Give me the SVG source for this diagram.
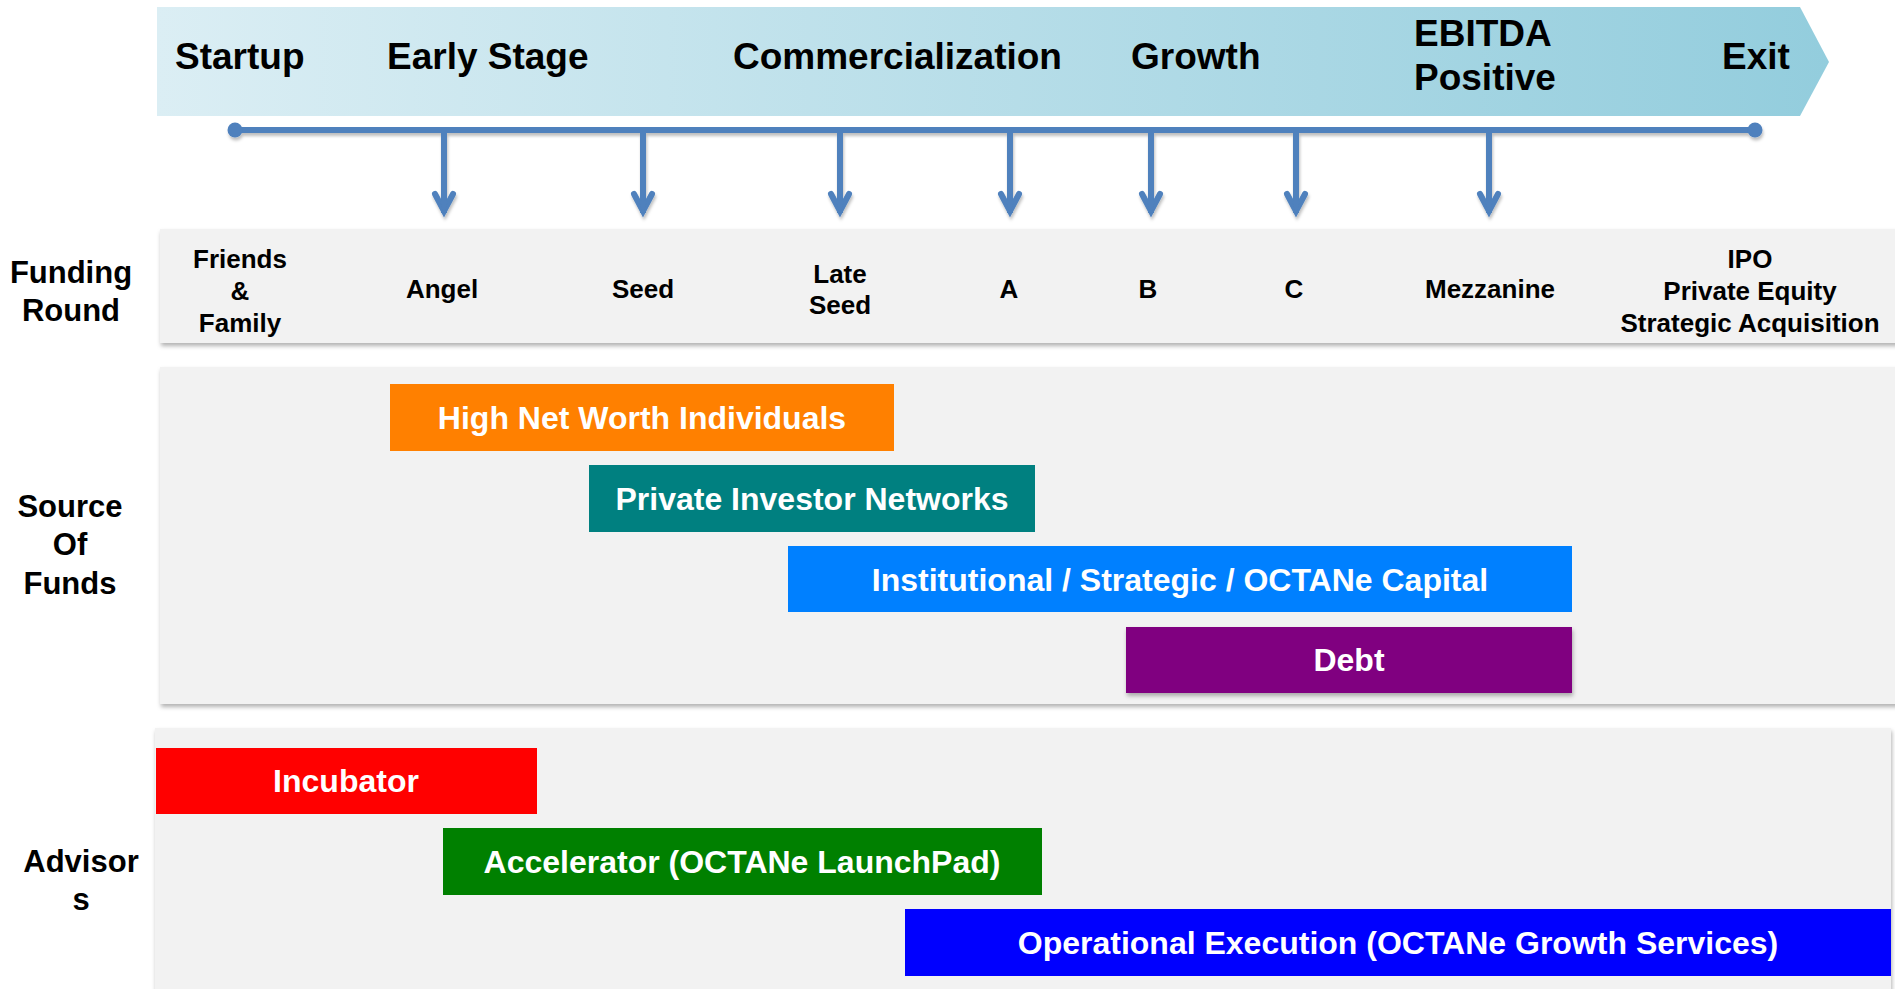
<svg xmlns="http://www.w3.org/2000/svg" width="1895" height="989" viewBox="0 0 1895 989">
<defs>
<linearGradient id="bannerGrad" x1="0" y1="0" x2="1" y2="0">
<stop offset="0" stop-color="#dbeef4"/>
<stop offset="1" stop-color="#93cddd"/>
</linearGradient>
<filter id="shadow" x="-5%" y="-10%" width="110%" height="130%">
<feDropShadow dx="1" dy="3" stdDeviation="2" flood-color="#000" flood-opacity="0.3"/>
</filter>
<filter id="lineShadow" x="-5%" y="-20%" width="110%" height="160%">
<feDropShadow dx="1" dy="3" stdDeviation="1.5" flood-color="#000" flood-opacity="0.25"/>
</filter>
<marker id="arrowhead" markerUnits="userSpaceOnUse" markerWidth="30" markerHeight="30" refX="0" refY="0" orient="auto" overflow="visible">
<path d="M-19,-9 L-2,0 L-19,9" fill="none" stroke="#4f81bd" stroke-width="6" stroke-linejoin="miter" stroke-linecap="round"/>
<path d="M-12,-4 L1,0 L-12,4 Z" fill="#4f81bd"/>
</marker>
</defs>
<style>
text { font-family: "Liberation Sans", Arial, Helvetica, sans-serif; font-weight: bold; }
.stage { font-size: 37px; fill: #000; }
.lbl { font-size: 31px; fill: #000; text-anchor: middle; }
.rnd { font-size: 26px; fill: #000; text-anchor: middle; }
.bartext { font-size: 32px; fill: #fff; text-anchor: middle; }
.panel { fill: #f2f2f2; }
.conn { stroke: #4f81bd; stroke-width: 6; fill: none; }
.drop { stroke: #4f81bd; stroke-width: 6; fill: none; marker-end: url(#arrowhead); }
.dot { fill: #4f81bd; }
</style>
<rect x="0" y="0" width="1895" height="989" fill="#ffffff"/>

<g id="banner">
<polygon points="157,7 1800,7 1829,62 1800,116 157,116" fill="url(#bannerGrad)"/>
<text class="stage" x="175" y="69">Startup</text>
<text class="stage" x="387" y="69">Early Stage</text>
<text class="stage" x="733" y="69">Commercialization</text>
<text class="stage" x="1131" y="69">Growth</text>
<text class="stage" x="1414" y="46">EBITDA</text>
<text class="stage" x="1414" y="90">Positive</text>
<text class="stage" x="1722" y="69">Exit</text>
</g>

<g id="connectors" filter="url(#lineShadow)">
<line class="conn" x1="235" y1="130" x2="1755" y2="130"/>
<circle class="dot" cx="235" cy="130" r="7.5"/>
<circle class="dot" cx="1755" cy="130" r="7.5"/>
<line class="drop" x1="444" y1="132" x2="444" y2="213"/>
<line class="drop" x1="643" y1="132" x2="643" y2="213"/>
<line class="drop" x1="840" y1="132" x2="840" y2="213"/>
<line class="drop" x1="1010" y1="132" x2="1010" y2="213"/>
<line class="drop" x1="1151" y1="132" x2="1151" y2="213"/>
<line class="drop" x1="1296" y1="132" x2="1296" y2="213"/>
<line class="drop" x1="1489" y1="132" x2="1489" y2="213"/>
</g>

<g id="funding-round">
<rect class="panel" x="160" y="229" width="1740" height="114" filter="url(#shadow)"/>
<text class="lbl" x="71" y="283">Funding</text>
<text class="lbl" x="71" y="321">Round</text>
<text class="rnd" x="240" y="268">Friends</text>
<text class="rnd" x="240" y="300">&amp;</text>
<text class="rnd" x="240" y="332">Family</text>
<text class="rnd" x="442" y="298">Angel</text>
<text class="rnd" x="643" y="298">Seed</text>
<text class="rnd" x="840" y="283">Late</text>
<text class="rnd" x="840" y="314">Seed</text>
<text class="rnd" x="1009" y="298">A</text>
<text class="rnd" x="1148" y="298">B</text>
<text class="rnd" x="1294" y="298">C</text>
<text class="rnd" x="1490" y="298">Mezzanine</text>
<text class="rnd" x="1750" y="268">IPO</text>
<text class="rnd" x="1750" y="300">Private Equity</text>
<text class="rnd" x="1750" y="332">Strategic Acquisition</text>
</g>

<g id="source-of-funds">
<rect class="panel" x="160" y="367" width="1740" height="337" filter="url(#shadow)"/>
<text class="lbl" x="70" y="517">Source</text>
<text class="lbl" x="70" y="555">Of</text>
<text class="lbl" x="70" y="594">Funds</text>
</g>

<g id="high-net-worth">
<rect x="390" y="384" width="504" height="67" fill="#ff8000"/>
<text class="bartext" x="642" y="429">High Net Worth Individuals</text>
</g>
<g id="private-investor-networks">
<rect x="589" y="465" width="446" height="67" fill="#008080"/>
<text class="bartext" x="812" y="510">Private Investor Networks</text>
</g>
<g id="institutional-capital">
<rect x="788" y="546" width="784" height="66" fill="#0080ff"/>
<text class="bartext" x="1180" y="591">Institutional / Strategic / OCTANe Capital</text>
</g>
<g id="debt">
<rect x="1126" y="627" width="446" height="66" fill="#800080" filter="url(#shadow)"/>
<text class="bartext" x="1349" y="671">Debt</text>
</g>

<g id="advisors">
<rect class="panel" x="155" y="728" width="1736" height="270" filter="url(#shadow)"/>
<text class="lbl" x="81" y="872">Advisor</text>
<text class="lbl" x="81" y="910">s</text>
</g>
<g id="incubator">
<rect x="156" y="748" width="381" height="66" fill="#ff0000"/>
<text class="bartext" x="346" y="792">Incubator</text>
</g>
<g id="accelerator">
<rect x="443" y="828" width="599" height="67" fill="#008000"/>
<text class="bartext" x="742" y="873">Accelerator (OCTANe LaunchPad)</text>
</g>
<g id="operational-execution">
<rect x="905" y="909" width="986" height="67" fill="#0000ff"/>
<text class="bartext" x="1398" y="954">Operational Execution (OCTANe Growth Services)</text>
</g>
</svg>
